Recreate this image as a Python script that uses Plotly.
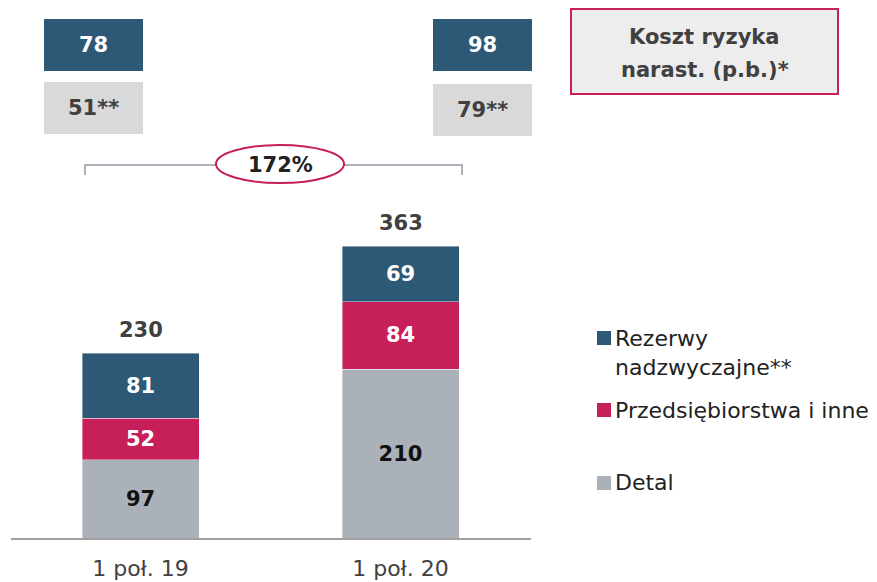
import plotly.graph_objects as go

# ---- data ----
categories = ["1 poł. 19", "1 poł. 20"]
detal = [97, 210]
przedsiebiorstwa = [52, 84]
rezerwy = [81, 69]
totals = [230, 363]
cost_of_risk = [78, 98]
cost_of_risk_excl = [51, 79]
growth_label = "172%"
title_lines = ["Koszt ryzyka", "narast. (p.b.)*"]

series_names = ["Detal", "Przedsiębiorstwa i inne", "Rezerwy<br>nadzwyczajne**"]

# ---- style ----
W, H = 877, 582
T, B = 0, 44
PH = H - T - B
FONT = "DejaVu Sans"
BLUE = "#2D5977"
CRIMSON = "#C71F5A"
GREY = "#AAB1B9"
BOXGREY = "#D9D9D9"
DARKTXT = "#404040"
NUM = 21


def px(x):
    return x / W


def py(y):
    return (PH - (y - T)) / PH


fig = go.Figure()
for vals, name, color, tcolor in [
    (detal, series_names[0], GREY, "#111111"),
    (przedsiebiorstwa, series_names[1], CRIMSON, "white"),
    (rezerwy, series_names[2], BLUE, "white"),
]:
    fig.add_trace(go.Bar(
        x=categories, y=vals, name=name,
        marker=dict(color=color, line=dict(color="rgba(255,255,255,0.5)", width=0.8)),
        text=vals, texttemplate="%{y}", textposition="inside",
        insidetextanchor="middle", textangle=0,
        textfont=dict(family=FONT, size=NUM, color=tcolor, weight="bold"),
        showlegend=False, hoverinfo="skip",
    ))

annotations = []
shapes = []

# totals above bars
for c, t in zip(categories, totals):
    annotations.append(dict(x=c, y=t, xref="x", yref="y", text=str(t), showarrow=False,
                            xanchor="center", yanchor="bottom", yshift=9,
                            font=dict(family=FONT, size=NUM, color=DARKTXT, weight="bold")))

# cost of risk boxes
box_x = [(44, 143), (433, 532)]
dark_y = [(19, 71), (19, 71)]
grey_y = [(82, 134), (84, 136)]
for i in range(2):
    x0, x1 = box_x[i]
    for (y0, y1), fill, txt, tc in [
        (dark_y[i], BLUE, str(cost_of_risk[i]), "white"),
        (grey_y[i], BOXGREY, f"{cost_of_risk_excl[i]}**", DARKTXT),
    ]:
        shapes.append(dict(type="rect", xref="paper", yref="paper",
                           x0=px(x0), x1=px(x1), y0=py(y1), y1=py(y0),
                           fillcolor=fill, line=dict(width=0), layer="above"))
        annotations.append(dict(x=px((x0 + x1) / 2), y=py((y0 + y1) / 2), xref="paper", yref="paper",
                                text=txt, showarrow=False, xanchor="center", yanchor="middle",
                                font=dict(family=FONT, size=NUM, color=tc, weight="bold")))

# bracket
shapes.append(dict(type="path", xref="paper", yref="paper",
                   path=f"M {px(85)},{py(175)} L {px(85)},{py(165)} L {px(462)},{py(165)} L {px(462)},{py(175)}",
                   line=dict(color=GREY, width=2), layer="above"))
# ellipse
shapes.append(dict(type="circle", xref="paper", yref="paper",
                   x0=px(216), x1=px(344), y0=py(183), y1=py(145),
                   fillcolor="white", line=dict(color=CRIMSON, width=2), layer="above"))
annotations.append(dict(x=px(280), y=py(165), xref="paper", yref="paper", text=growth_label,
                        showarrow=False, xanchor="center", yanchor="middle",
                        font=dict(family=FONT, size=NUM, color="#222222", weight="bold")))

# title box
shapes.append(dict(type="rect", xref="paper", yref="paper",
                   x0=px(571), x1=px(838), y0=py(94), y1=py(9),
                   fillcolor="#EDEDED", line=dict(color=CRIMSON, width=2), layer="above"))
for ln, yy in zip(title_lines, [37, 70]):
    annotations.append(dict(x=px(704.5), y=py(yy), xref="paper", yref="paper",
                            text=ln, showarrow=False, xanchor="center", yanchor="middle",
                            font=dict(family=FONT, size=21, color=DARKTXT, weight="bold")))

# manual legend
legend_items = [
    (BLUE, 331, ["Rezerwy", "nadzwyczajne**"], [338, 367]),
    (CRIMSON, 403, ["Przedsiębiorstwa i inne"], [410]),
    (GREY, 476, ["Detal"], [482]),
]
for color, sy, lines, ys in legend_items:
    shapes.append(dict(type="rect", xref="paper", yref="paper",
                       x0=px(597), x1=px(611), y0=py(sy + 14), y1=py(sy),
                       fillcolor=color, line=dict(width=0), layer="above"))
    for ln, yy in zip(lines, ys):
        annotations.append(dict(x=px(613), y=py(yy), xref="paper", yref="paper", text=ln,
                                showarrow=False, xanchor="left", yanchor="middle",
                                font=dict(family=FONT, size=22, color="#222222")))

fig.update_layout(
    width=W, height=H, barmode="stack", bargap=0.55,
    margin=dict(l=0, r=0, t=T, b=B),
    paper_bgcolor="white", plot_bgcolor="white",
    xaxis=dict(domain=[px(10.5), px(530.5)], showline=True, linecolor="#A0A0A0", linewidth=2,
               ticks="outside", ticklen=10, tickcolor="rgba(0,0,0,0)",
               tickfont=dict(family=FONT, size=22, color=DARKTXT), showgrid=False, zeroline=False),
    yaxis=dict(range=[0, PH / 0.8043], visible=False, showgrid=False),
    shapes=shapes, annotations=annotations,
    font=dict(family=FONT),
)

fig.write_html("out.html", config={"displayModeBar": False},
               post_script="document.body.style.margin='0';document.body.style.padding='0';document.body.style.overflow='hidden';")
